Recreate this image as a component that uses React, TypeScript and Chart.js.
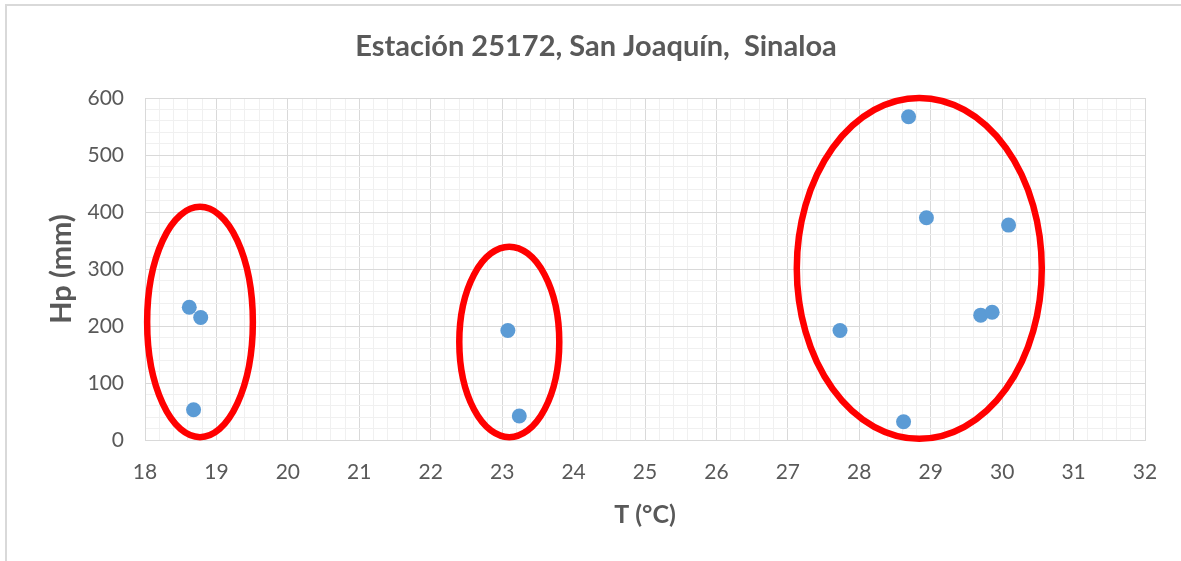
import React, { useEffect, useRef } from "react";
import { Chart, registerables } from "chart.js";

Chart.register(...registerables);

// ---- Data ----
const temperatures: number[] = [18.62, 18.78, 18.68, 23.08, 23.24, 28.69, 28.94, 30.09, 27.73, 29.70, 29.86, 28.62];
const precipitation: number[] = [233, 215, 53, 192, 42, 567, 390, 377, 192, 219, 224, 32];

// Highlight ellipses (data units): centre x/y, radius x/y
const ellipseCX: number[] = [18.77, 23.10, 28.84];
const ellipseCY: number[] = [207, 172, 301];
const ellipseRX: number[] = [0.74, 0.70, 1.715];
const ellipseRY: number[] = [202, 167, 299];

const chartTitle = "Estación 25172, San Joaquín,  Sinaloa";
const xTitle = "T (°C)";
const yTitle = "Hp (mm)";
const xMin = 18, xMax = 32, xMinorStep = 0.2;
const yMin = 0, yMax = 600, yMinorStep = 20;
const yMajorStep = 100;

const FONT = "Lato, 'Noto Sans', sans-serif";
const TEXT = "#595959";
const MAJOR = "#d9d9d9";
const MINOR = "#f0f0f0";

const isInt = (v: number) => Math.abs(v - Math.round(v)) < 1e-6;
const isMultiple = (v: number, m: number) => Math.abs(v / m - Math.round(v / m)) < 1e-6;

const ellipsePlugin = {
  id: "ellipses",
  afterDatasetsDraw(chart: any) {
    const { ctx, scales } = chart;
    const xs = scales.x, ys = scales.y;
    ctx.save();
    ctx.strokeStyle = "#ff0000";
    ctx.lineWidth = 6.5;
    for (let i = 0; i < ellipseCX.length; i++) {
      const cx = xs.getPixelForValue(ellipseCX[i]);
      const cy = ys.getPixelForValue(ellipseCY[i]);
      const rx = Math.abs(xs.getPixelForValue(ellipseCX[i] + ellipseRX[i]) - cx);
      const ry = Math.abs(ys.getPixelForValue(ellipseCY[i] + ellipseRY[i]) - cy);
      ctx.beginPath();
      ctx.ellipse(cx, cy, rx, ry, 0, 0, Math.PI * 2);
      ctx.stroke();
    }
    ctx.restore();
  },
};

export default function App() {
  const ref = useRef<HTMLCanvasElement | null>(null);

  useEffect(() => {
    let chart: Chart | null = null;
    let cancelled = false;
    const make = () => {
      if (cancelled || !ref.current) return;
      chart = new Chart(ref.current, {
        type: "scatter",
        data: {
          datasets: [
            {
              label: "Hp",
              data: temperatures.map((t, i) => ({ x: t, y: precipitation[i] })),
              backgroundColor: "#5b9bd5",
              borderWidth: 0,
              pointRadius: 7.5,
              pointHoverRadius: 7.5,
            },
          ],
        },
        options: {
          responsive: false,
          animation: false,
          devicePixelRatio: 1,
          layout: { padding: { left: 47, right: 36, top: 0, bottom: 0 } },
          plugins: {
            legend: { display: false },
            tooltip: { enabled: false },
            title: {
              display: true,
              text: chartTitle,
              color: TEXT,
              font: { family: FONT, size: 29, weight: "bold", lineHeight: 1.2 },
              padding: { top: 29.6, bottom: 33.6 },
            },
          },
          scales: {
            x: {
              type: "linear",
              min: xMin,
              max: xMax,
              afterFit: (s: any) => { s.height = 121; },
              ticks: {
                stepSize: xMinorStep,
                maxTicksLimit: 1000,
                autoSkip: false,
                maxRotation: 0,
                minRotation: 0,
                padding: 20,
                color: TEXT,
                font: { family: FONT, size: 21 },
                callback: (v: any) => (isInt(Number(v)) ? String(Math.round(Number(v))) : ""),
              },
              grid: {
                drawTicks: false,
                color: (c: any) => (isInt(c.tick.value) ? MAJOR : MINOR),
                lineWidth: 1,
              },
              border: { color: MAJOR, width: 1 },
              title: {
                display: true,
                text: xTitle,
                color: TEXT,
                font: { family: FONT, size: 25, weight: "bold", lineHeight: 1.2 },
                padding: { top: 0, bottom: 31 },
              },
            },
            y: {
              type: "linear",
              min: yMin,
              max: yMax,
              afterFit: (s: any) => { s.width = 98; },
              ticks: {
                stepSize: yMinorStep,
                maxTicksLimit: 1000,
                autoSkip: false,
                padding: 21,
                color: TEXT,
                font: { family: FONT, size: 21 },
                callback: (v: any) => (isMultiple(Number(v), yMajorStep) ? String(Math.round(Number(v))) : ""),
              },
              grid: {
                drawTicks: false,
                color: (c: any) => (isMultiple(c.tick.value, yMajorStep) ? MAJOR : MINOR),
                lineWidth: 1,
              },
              border: { color: MAJOR, width: 1 },
              title: {
                display: true,
                text: yTitle,
                color: TEXT,
                font: { family: FONT, size: 29, weight: "bold", lineHeight: 1.0 },
                padding: { top: 0, bottom: 0 },
              },
            },
          },
        },
        plugins: [ellipsePlugin],
      });
    };
    const fontsReady = (document as any).fonts
      ? Promise.all([
          (document as any).fonts.load("bold 29px Lato"),
          (document as any).fonts.load("21px Lato"),
        ]).catch(() => null)
      : Promise.resolve(null);
    fontsReady.then(make);
    return () => {
      cancelled = true;
      if (chart) chart.destroy();
    };
  }, []);

  return (
    <div style={{ position: "absolute", left: 0, top: 0, width: 1181, height: 561, background: "#fff" }}>
      <div
        style={{
          position: "absolute",
          left: 5,
          top: 4,
          width: 1176,
          height: 557,
          borderTop: "2px solid #d9d9d9",
          borderLeft: "2px solid #d9d9d9",
          boxSizing: "border-box",
        }}
      />
      <canvas ref={ref} width={1181} height={561} style={{ position: "absolute", left: 0, top: 0, display: "block" }} />
    </div>
  );
}
